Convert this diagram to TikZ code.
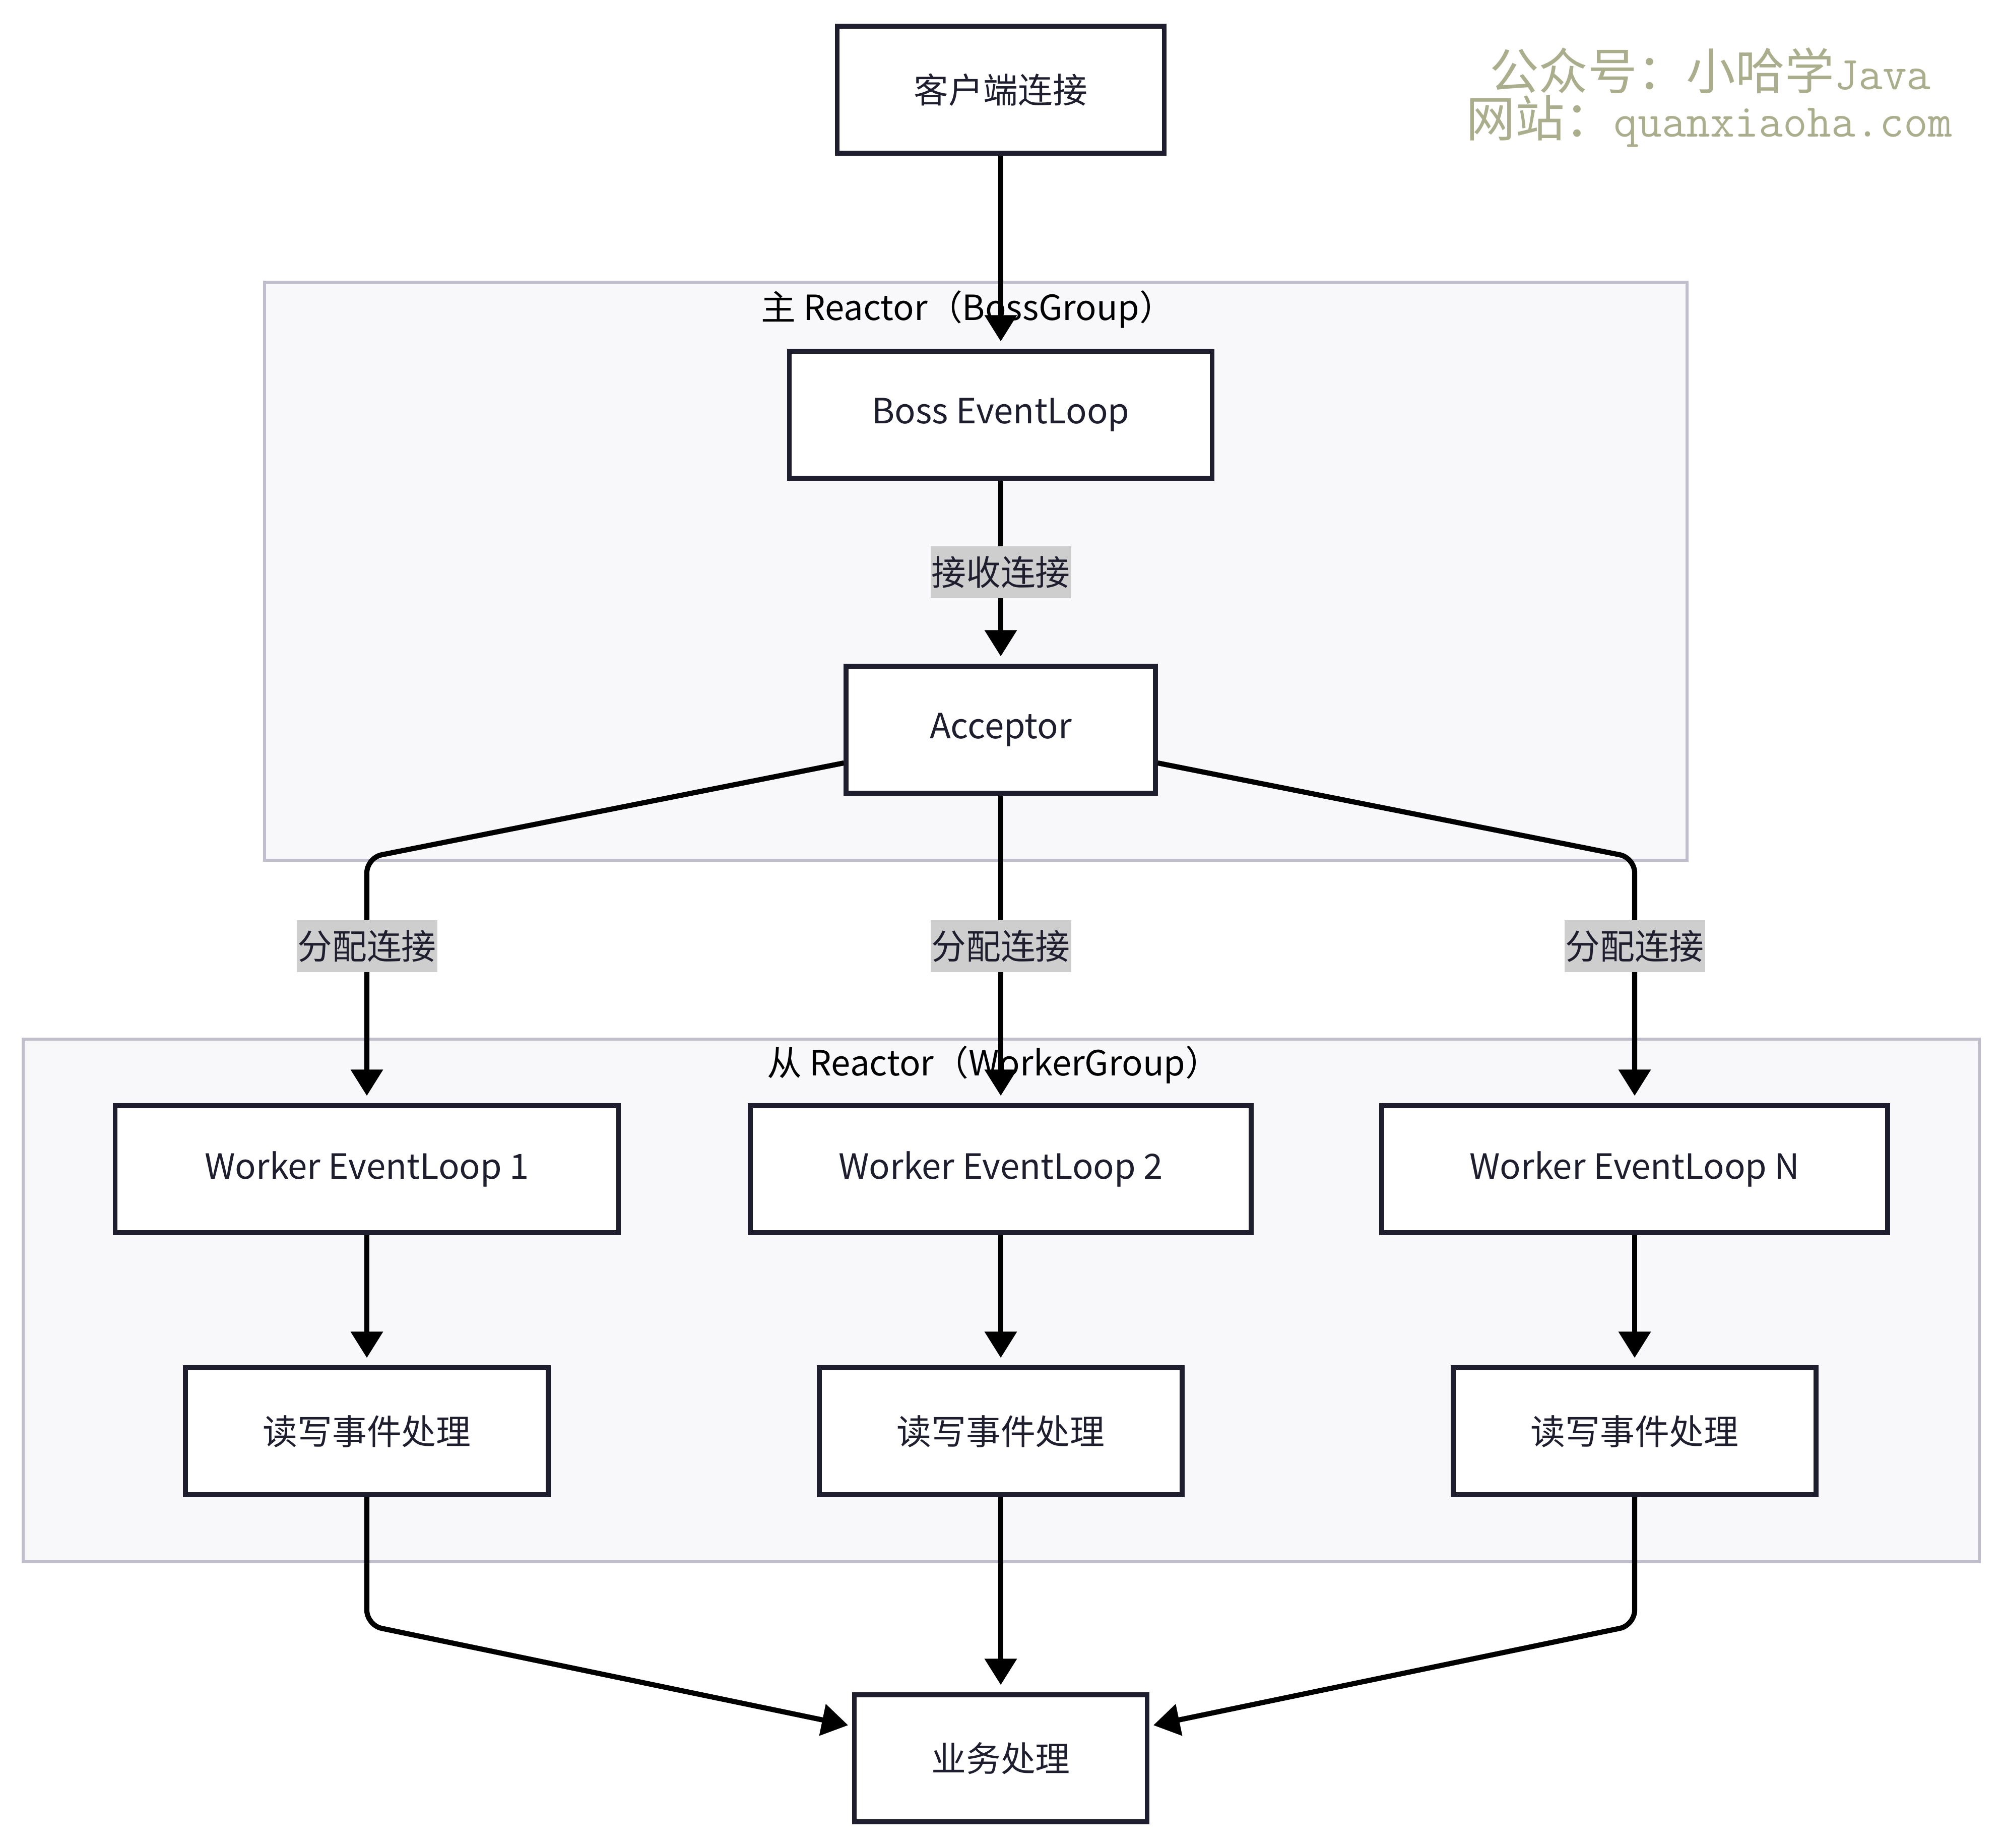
\documentclass[tikz,border=0pt]{standalone}
\usepackage{fontspec}
\setmainfont{Noto Sans CJK SC}
\usepackage{xcolor}
\definecolor{inkdark}{RGB}{30, 30, 46}
\definecolor{grpline}{RGB}{192, 190, 205}
\definecolor{grpfill}{RGB}{248, 248, 250}
\definecolor{lblgray}{RGB}{206, 206, 206}
\definecolor{wmcolor}{RGB}{170, 174, 140}
\usepackage{tikz}
\usetikzlibrary{positioning, arrows.meta}
\newcommand{\boxfont}{\fontsize{19.6}{23}\selectfont}
\newcommand{\wmlatin}{\fontsize{26.5}{30}\selectfont\ttfamily}

\begin{document}
\begin{tikzpicture}[
  box/.style={rectangle, draw=inkdark, line width=2.6pt, fill=white, minimum height=2.52cm, text=inkdark, font=\boxfont},
  group/.style={rectangle, draw=grpline, line width=1.8pt, fill=grpfill},
  grplabel/.style={font=\boxfont, text=black},
  lbl/.style={rectangle, sharp corners, fill=lblgray, text=inkdark, font=\boxfont, inner sep=0pt, minimum width=2.79cm, minimum height=1.03cm},
  arrow/.style={-{Triangle[length=0.52cm, width=0.62cm]}, line width=2.9pt, draw=black, shorten >=0.15cm, rounded corners=0.3cm},
  wmark/.style={text=wmcolor, font=\fontsize{27.8}{30}\selectfont}
]
  \useasboundingbox (0,0) rectangle (39.77,-36.67);

  % Groups
  \node[group, minimum width=28.23cm, minimum height=11.47cm] (bossgroup) at (19.365,-11.335) {};
  \node[group, minimum width=38.82cm, minimum height=10.37cm] (workergroup) at (19.87,-25.805) {};
  \node[grplabel] (bosslabel) at (19.2,-6.14) {主 Reactor（BossGroup）};
  \node[grplabel] (workerlabel) at (19.72,-21.13) {从 Reactor（WorkerGroup）};

  % Nodes
  \node[box, minimum width=6.49cm] (client) at (19.86,-1.78) {客户端连接};
  \node[box, minimum width=8.39cm] (boss) at (19.86,-8.23) {Boss EventLoop};
  \node[box, minimum width=6.14cm] (acceptor) at (19.86,-14.48) {Acceptor};
  \node[box, minimum width=9.99cm] (worker1) at (7.28,-23.2) {Worker EventLoop 1};
  \node[box, minimum width=9.94cm] (worker2) at (19.86,-23.2) {Worker EventLoop 2};
  \node[box, minimum width=10.04cm] (workerN) at (32.44,-23.2) {Worker EventLoop N};
  \node[box, minimum width=7.2cm] (rw1) at (7.28,-28.4) {读写事件处理};
  \node[box, minimum width=7.2cm] (rw2) at (19.86,-28.4) {读写事件处理};
  \node[box, minimum width=7.2cm] (rw3) at (32.44,-28.4) {读写事件处理};
  \node[box, minimum width=5.81cm] (biz) at (19.86,-34.89) {业务处理};

  % Corners
  \coordinate (split1) at (7.28,-17.02);
  \coordinate (split3) at (32.44,-17.02);
  \coordinate (merge1) at (7.28,-32.25);
  \coordinate (merge3) at (32.44,-32.25);

  % Arrows
  \draw[arrow] (client) -- (boss);
  \draw[arrow] (boss) -- node[lbl] (acceptlbl) {接收连接} (acceptor);
  \draw[arrow] ([yshift=-0.66cm]acceptor.west) -- (split1) -- node[lbl, pos=0.36] (assign1) {分配连接} (worker1.north);
  \draw[arrow] (acceptor) -- node[lbl, pos=0.49] (assign2) {分配连接} (worker2);
  \draw[arrow] ([yshift=-0.66cm]acceptor.east) -- (split3) -- node[lbl, pos=0.36] (assign3) {分配连接} (workerN.north);
  \draw[arrow] (worker1) -- (rw1);
  \draw[arrow] (worker2) -- (rw2);
  \draw[arrow] (workerN) -- (rw3);
  \draw[arrow, shorten >=0.08cm] (rw1) -- (merge1) -- ([yshift=0.64cm]biz.west);
  \draw[arrow] (rw2) -- (biz);
  \draw[arrow, shorten >=0.08cm] (rw3) -- (merge3) -- ([yshift=0.64cm]biz.east);

  % Watermark
  \node[wmark] (wmline1) at (33.94,-1.40) {公众号：小哈学{\wmlatin Java}};
  \node[wmark] (wmline2) at (33.92,-2.41) {网站：{\wmlatin quanxiaoha.com}};
\end{tikzpicture}
\end{document}
